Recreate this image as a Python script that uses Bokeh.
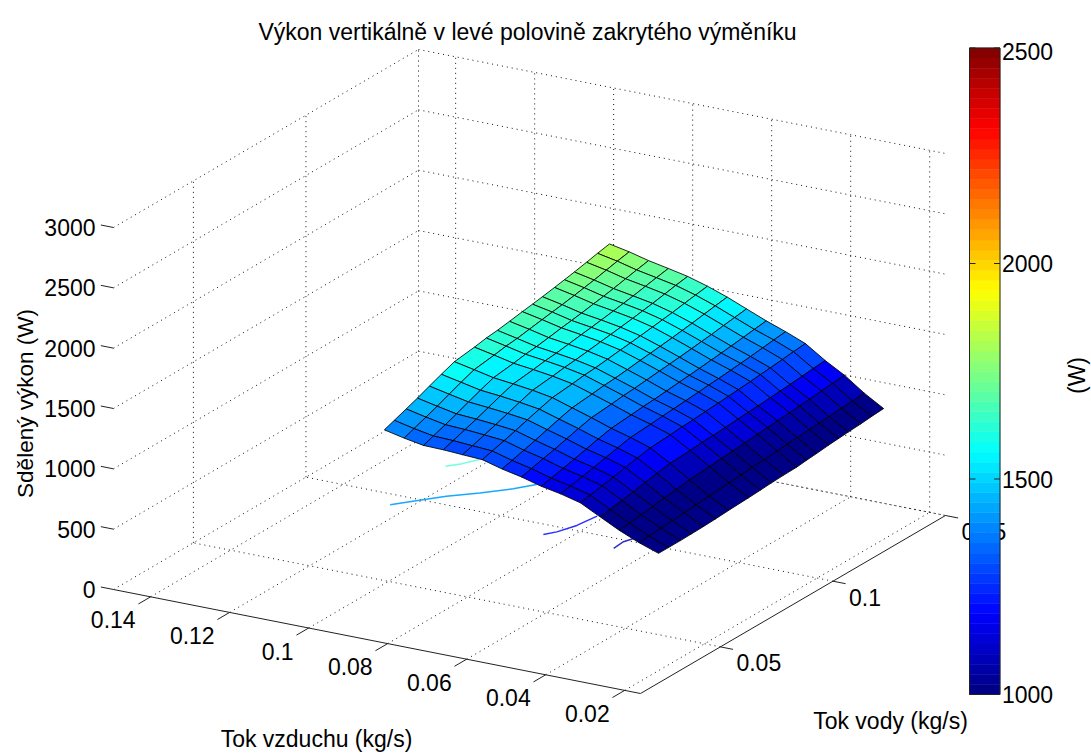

import math
from bokeh.plotting import figure
from bokeh.models import Range1d, ColumnDataSource
from bokeh.core.properties import value
from bokeh.embed import file_html
from bokeh.resources import INLINE

TITLE = "Výkon vertikálně v levé polovině zakrytého výměníku"
XLABEL = "Tok vzduchu (kg/s)"
YLABEL = "Tok vody (kg/s)"
ZLABEL = "Sdělený výkon (W)"
CBLABEL = "(W)"

AIR_TICKS = [0.14, 0.12, 0.1, 0.08, 0.06, 0.04, 0.02]
WATER_TICKS = [0.05, 0.1, 0.15]
Z_TICKS = [0, 500, 1000, 1500, 2000, 2500, 3000]
CB_TICKS = [1000, 1500, 2000, 2500]

AIR = [.0973, .0923, .0874, .0824, .0775, .0725, .0675, .0626, .0576, .0527, .0477, .0427, .0378, .0328, .0279]
WATER = [.0434, .0478, .0531, .0581, .0634, .0687, .0745, .0834, .0887, .0936, .099, .1047, .1092, .1136, .119, .1234, .1278, .1332, .1381, .1434]
POWER = [
    [1345,1376,1413,1448,1490,1530,1571,1595,1613,1623,1639,1657,1670,1684,1702,1718,1734,1756,1777,1797],
    [1309,1340,1377,1413,1455,1496,1537,1561,1578,1588,1605,1623,1637,1650,1668,1684,1700,1723,1744,1764],
    [1280,1310,1346,1381,1422,1462,1502,1525,1542,1552,1568,1586,1599,1612,1630,1645,1661,1683,1703,1723],
    [1276,1304,1338,1370,1408,1446,1483,1505,1521,1530,1545,1562,1574,1587,1603,1618,1632,1653,1671,1690],
    [1267,1293,1325,1356,1391,1426,1462,1482,1497,1506,1520,1535,1547,1559,1574,1588,1602,1621,1639,1656],
    [1258,1282,1310,1338,1370,1401,1433,1451,1465,1472,1485,1499,1509,1520,1534,1546,1558,1576,1591,1607],
    [1213,1236,1263,1290,1321,1351,1381,1399,1412,1419,1431,1445,1455,1465,1478,1490,1502,1519,1534,1549],
    [1179,1200,1225,1248,1276,1304,1331,1347,1359,1366,1377,1389,1398,1407,1419,1430,1440,1456,1469,1483],
    [1134,1153,1176,1198,1224,1250,1275,1290,1301,1307,1317,1329,1337,1346,1357,1367,1377,1391,1403,1416],
    [1103,1120,1141,1161,1185,1208,1231,1244,1254,1260,1269,1279,1287,1294,1304,1313,1322,1335,1347,1358],
    [1061,1077,1096,1114,1135,1156,1177,1189,1198,1203,1211,1220,1227,1234,1243,1252,1260,1271,1282,1292],
    [977,991,1008,1024,1043,1062,1081,1091,1100,1104,1112,1120,1126,1132,1141,1148,1155,1165,1175,1184],
    [896,907,920,933,947,961,976,990,999,1006,1015,1024,1032,1039,1048,1056,1064,1074,1083,1093],
    [826,833,841,848,856,864,873,886,894,902,910,919,925,932,940,947,953,962,969,977],
    [770,770,770,772,775,780,787,795,801,808,813,816,826,833,844,851,858,865,874,881],
]
CONTOUR_Z = 770
CONTOURS = [
    ("#70ffe0", [.0964, .0941, .0922], [.0690, .0724, .0767]),
    ("#18a8ff", [.0944, .0903, .0865, .0813, .0763, .0733], [.0409, .0467, .0520, .0577, .0638, .0689]),
    ("#2a30ff", [.0558, .0541, .0524, .0516], [.0412, .0442, .0501, .0577]),
    ("#3030c8", [.0380, .0383, .0374], [.0412, .0461, .0490]),
]

AMAX, AMIN, WMIN, WMAX, ZMAX = 0.1494, 0.016, 0.0145, 0.15, 3000
LX, LY, FX, FY, BX, BY = 113, 589, 640, 693, 418, 411
ZS = 362 / ZMAX
CB_L, CB_R, CB_T, CB_B = 969, 999.5, 47.5, 694
CLOW, CHIGH = 1000, 2500
FONT = "Liberation Sans"
FS = "23px"


def proj(a, w, z):
    u = (AMAX - a) / (AMAX - AMIN)
    v = (w - WMIN) / (WMAX - WMIN)
    return LX + u * (FX - LX) + v * (BX - LX), LY + u * (FY - LY) + v * (BY - LY) - z * ZS


def jet(t):
    r = max(0.0, min(1.0, 1.5 - abs(4 * t - 3)))
    g = max(0.0, min(1.0, 1.5 - abs(4 * t - 2)))
    b = max(0.0, min(1.0, 1.5 - abs(4 * t - 1)))
    return "#%02x%02x%02x" % (round(r * 255), round(g * 255), round(b * 255))


def cmap(val):
    k = int((val - CLOW) / (CHIGH - CLOW) * 64)
    k = max(0, min(63, k))
    return jet((k + 0.5) / 64)


W, H = 1091, 753
p = figure(width=W, height=H, x_range=Range1d(0, W), y_range=Range1d(H, 0),
           output_backend="svg", toolbar_location=None, min_border=0)
p.axis.visible = False
p.grid.visible = False
p.outline_line_color = None
p.background_fill_color = "white"

gx, gy = [], []


def seg(a0, w0, z0, a1, w1, z1):
    x0, y0 = proj(a0, w0, z0)
    x1, y1 = proj(a1, w1, z1)
    gx.append([x0, x1])
    gy.append([y0, y1])


for a in AIR_TICKS:
    seg(a, WMIN, 0, a, WMAX, 0)
    seg(a, WMAX, 0, a, WMAX, ZMAX)
for w in WATER_TICKS:
    seg(AMIN, w, 0, AMAX, w, 0)
    seg(AMAX, w, 0, AMAX, w, ZMAX)
for z in Z_TICKS:
    seg(AMAX, WMIN, z, AMAX, WMAX, z)
    seg(AMAX, WMAX, z, AMIN, WMAX, z)
p.multi_line(gx, gy, line_color="#111111", line_width=1, line_dash="1 4")

ax, ay = [], []
ax0, ay0 = proj(AMAX, WMIN, 0)
ax1, ay1 = proj(AMIN, WMIN, 0)
ax2, ay2 = proj(AMIN, WMAX, 0)
ax.append([ax0, ax1, ax2]); ay.append([ay0, ay1, ay2])
TK = 0.04
dwx = (BX - LX) * TK; dwy = (BY - LY) * TK
dax = (FX - LX) * 0.024; day = (FY - LY) * 0.024
for a in AIR_TICKS:
    x, y = proj(a, WMIN, 0)
    ax.append([x, x - dwx]); ay.append([y, y - dwy])
for w in WATER_TICKS:
    x, y = proj(AMIN, w, 0)
    ax.append([x, x + dax]); ay.append([y, y + day])
for z in Z_TICKS:
    x, y = proj(AMAX, WMIN, z)
    ax.append([x, x - dax]); ay.append([y, y - day])
p.multi_line(ax, ay, line_color="#222222", line_width=1)

for col, aa, ww in CONTOURS:
    pts = [proj(a, w, CONTOUR_Z) for a, w in zip(aa, ww)]
    p.line([q[0] for q in pts], [q[1] for q in pts], line_color=col, line_width=1.5)

xs, ys, cols = [], [], []
for i in range(len(AIR) - 1):
    for j in range(len(WATER) - 2, -1, -1):
        corners = [(i, j), (i + 1, j), (i + 1, j + 1), (i, j + 1)]
        pts = [proj(AIR[m], WATER[n], POWER[m][n]) for m, n in corners]
        xs.append([q[0] for q in pts])
        ys.append([q[1] for q in pts])
        cols.append(cmap(POWER[i][j + 1]))
p.patches("xs", "ys", source=ColumnDataSource(dict(xs=xs, ys=ys, c=cols)),
          fill_color="c", line_color="#000000", line_width=1, line_alpha=0.85)


def txt(x, y, s, align="left", base="middle", angle=0.0, size=FS):
    p.text([x], [y], text=[s], text_font=value(FONT), text_font_size=size, text_color="#000000",
           text_align=align, text_baseline=base, angle=angle)


for z in Z_TICKS:
    x, y = proj(AMAX, WMIN, z)
    txt(x - 18, y, str(z), "right")
for a in AIR_TICKS:
    x, y = proj(a, WMIN, 0)
    txt(x - 15, y + 23, "%g" % a, "right")
for w in WATER_TICKS:
    x, y = proj(AMIN, w, 0)
    txt(x + 16, y + 16, "%g" % w, "left")

txt(527, 31, TITLE, "center", size="23px")
txt(25, 403, ZLABEL, "center", angle=math.pi / 2, size="22.5px")
txt(316, 738, XLABEL, "center", size="23px")
txt(890, 720, YLABEL, "center", size="23px")
txt(1076, 375, CBLABEL, "center", angle=math.pi / 2, size="23px")

n = 64
levels = [CLOW + (CHIGH - CLOW) * k / n for k in range(n + 1)]


def cby(v):
    return CB_B - (v - CLOW) / (CHIGH - CLOW) * (CB_B - CB_T)


band = [jet((k + 0.5) / n) for k in range(n)]
p.quad(left=[CB_L] * n, right=[CB_R] * n,
       top=[cby(levels[k + 1]) for k in range(n)], bottom=[cby(levels[k]) for k in range(n)],
       fill_color=band, line_color=band, line_width=0.5)
p.quad(left=[CB_L], right=[CB_R], top=[CB_T], bottom=[CB_B], fill_color=None, line_color="#222222", line_width=1)
tx, ty = [], []
for v in CB_TICKS:
    tx += [[CB_L, CB_L + 6], [CB_R - 6, CB_R]]
    ty += [[cby(v), cby(v)], [cby(v), cby(v)]]
    txt(CB_R + 2, cby(v) + (3 if v == 2500 else 0), str(v), "left")
p.multi_line(tx, ty, line_color="#222222", line_width=1)

open("out.html", "w").write(file_html(p, INLINE))
